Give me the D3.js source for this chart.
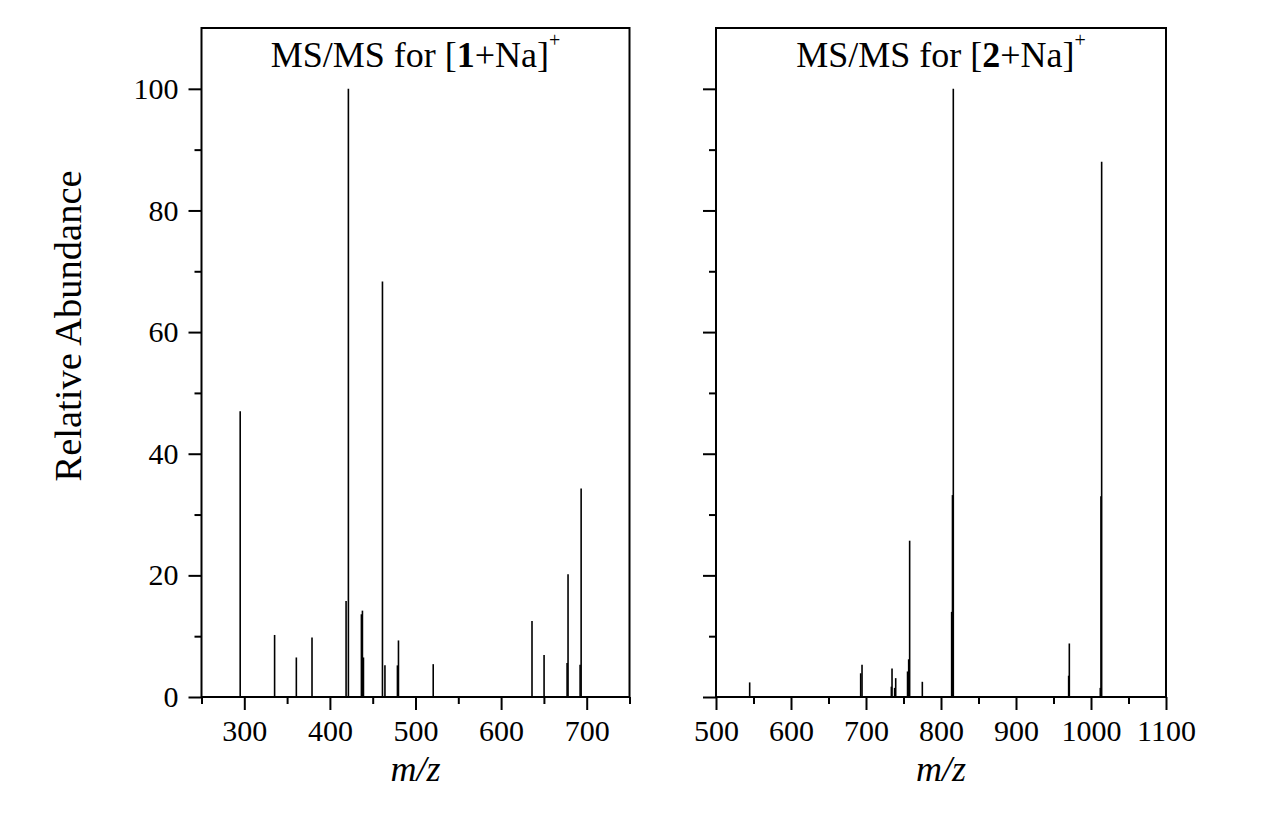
<!DOCTYPE html>
<html>
<head>
<meta charset="utf-8">
<script src="https://cdn.jsdelivr.net/npm/d3@7"></script>
<style>
  body { margin: 0; background: #fff; }
  svg { display: block; }
  text { font-family: "Liberation Serif", "Times New Roman", serif; fill: #000; }
</style>
</head>
<body>
<div id="chart"></div>
<script>
// spectrum of [1+Na]+ : m/z and relative abundance
var mz1 = [295.2, 335.4, 360.8, 379.1, 418.9, 421.6, 436.8, 438.0, 439.2, 461.4,
           464.3, 478.9, 480.1, 520.7, 636.1, 650.2, 677.1, 678.2, 692.3, 693.5];
var abund1 = [47.0, 10.2, 6.5, 9.8, 15.8, 100, 13.6, 14.2, 6.5, 68.3,
              5.2, 5.2, 9.3, 5.4, 12.5, 6.9, 5.6, 20.2, 5.3, 34.3];

// spectrum of [2+Na]+
var mz2 = [544.9, 692.9, 694.7, 733.8, 734.7, 738.2, 739.6, 755.4, 756.9, 758.2,
           775.1, 814.2, 815.3, 816.4, 970.2, 971.1, 1012.4, 1013.3, 1014.2];
var abund2 = [2.4, 3.9, 5.3, 1.7, 4.7, 1.5, 3.1, 4.2, 6.2, 25.7,
              2.5, 14.0, 33.2, 100, 3.5, 8.8, 1.5, 33.0, 88.0];

var yMajor = [0, 20, 40, 60, 80, 100];
var yMinor = [10, 30, 50, 70, 90];
var x1Major = [300, 400, 500, 600, 700];
var x1Minor = [250, 350, 450, 550, 650, 750];
var x2Major = [500, 600, 700, 800, 900, 1000, 1100];
var x2Minor = [550, 650, 750, 850, 950, 1050];

var width = 1285, height = 816;
var plotTop = 28, plotBottom = 697;

var svg = d3.select('#chart').append('svg')
  .attr('width', width)
  .attr('height', height);

var y = d3.scaleLinear().domain([0, 110]).range([plotBottom, plotTop]);

function drawPanel(opts) {
  var x = d3.scaleLinear().domain(opts.domain).range(opts.range);
  var g = svg.append('g');

  // frame
  g.append('rect')
    .attr('x', opts.range[0]).attr('y', plotTop)
    .attr('width', opts.range[1] - opts.range[0])
    .attr('height', plotBottom - plotTop)
    .attr('fill', 'none')
    .attr('stroke', '#000')
    .attr('stroke-width', 2);

  // x axis, major + minor ticks
  g.append('g').attr('transform', 'translate(0,' + plotBottom + ')')
    .call(d3.axisBottom(x).tickValues(opts.major).tickSize(13).tickPadding(10).tickFormat(d3.format('d')));
  g.append('g').attr('transform', 'translate(0,' + plotBottom + ')')
    .call(d3.axisBottom(x).tickValues(opts.minor).tickSize(7).tickFormat(''));

  // y axis
  g.append('g').attr('transform', 'translate(' + opts.range[0] + ',0)')
    .call(d3.axisLeft(y).tickValues(yMajor).tickSize(13).tickPadding(10)
      .tickFormat(opts.yLabels ? d3.format('d') : ''));
  g.append('g').attr('transform', 'translate(' + opts.range[0] + ',0)')
    .call(d3.axisLeft(y).tickValues(yMinor).tickSize(7).tickFormat(''));

  g.selectAll('.domain').remove();
  g.selectAll('.tick line').attr('stroke', '#000').attr('stroke-width', 2);
  g.selectAll('.tick text').style('font-size', '30px')
    .style('font-family', '"Liberation Serif", "Times New Roman", serif');

  // peaks
  g.append('g').selectAll('line.peak')
    .data(opts.mz.map(function(m, i) { return {mz: m, v: opts.abund[i]}; }))
    .enter().append('line')
    .attr('class', 'peak')
    .attr('x1', function(d) { return x(d.mz); })
    .attr('x2', function(d) { return x(d.mz); })
    .attr('y1', y(0))
    .attr('y2', function(d) { return y(d.v); })
    .attr('stroke', '#000')
    .attr('stroke-width', 1.6);

  // title
  var cx = (opts.range[0] + opts.range[1]) / 2;
  var t = g.append('text')
    .attr('x', cx).attr('y', 67)
    .attr('text-anchor', 'middle')
    .style('font-size', '36px');
  t.append('tspan').text('MS/MS for [');
  t.append('tspan').style('font-weight', 'bold').text(opts.num);
  t.append('tspan').text('+Na]');
  t.append('tspan').attr('dy', -20).style('font-size', '20px').text('+');

  // x label
  g.append('text')
    .attr('x', cx).attr('y', 781)
    .attr('text-anchor', 'middle')
    .style('font-size', '36px')
    .style('font-style', 'italic')
    .text('m/z');
}

drawPanel({domain: [250, 750], range: [201.5, 629.5], major: x1Major, minor: x1Minor,
  mz: mz1, abund: abund1, num: '1', yLabels: true});
drawPanel({domain: [500, 1100], range: [716, 1166], major: x2Major, minor: x2Minor,
  mz: mz2, abund: abund2, num: '2', yLabels: false});

// y axis title
svg.append('text')
  .attr('transform', 'translate(81,326)rotate(-90)')
  .attr('text-anchor', 'middle')
  .style('font-size', '38.5px')
  .text('Relative Abundance');
</script>
</body>
</html>
